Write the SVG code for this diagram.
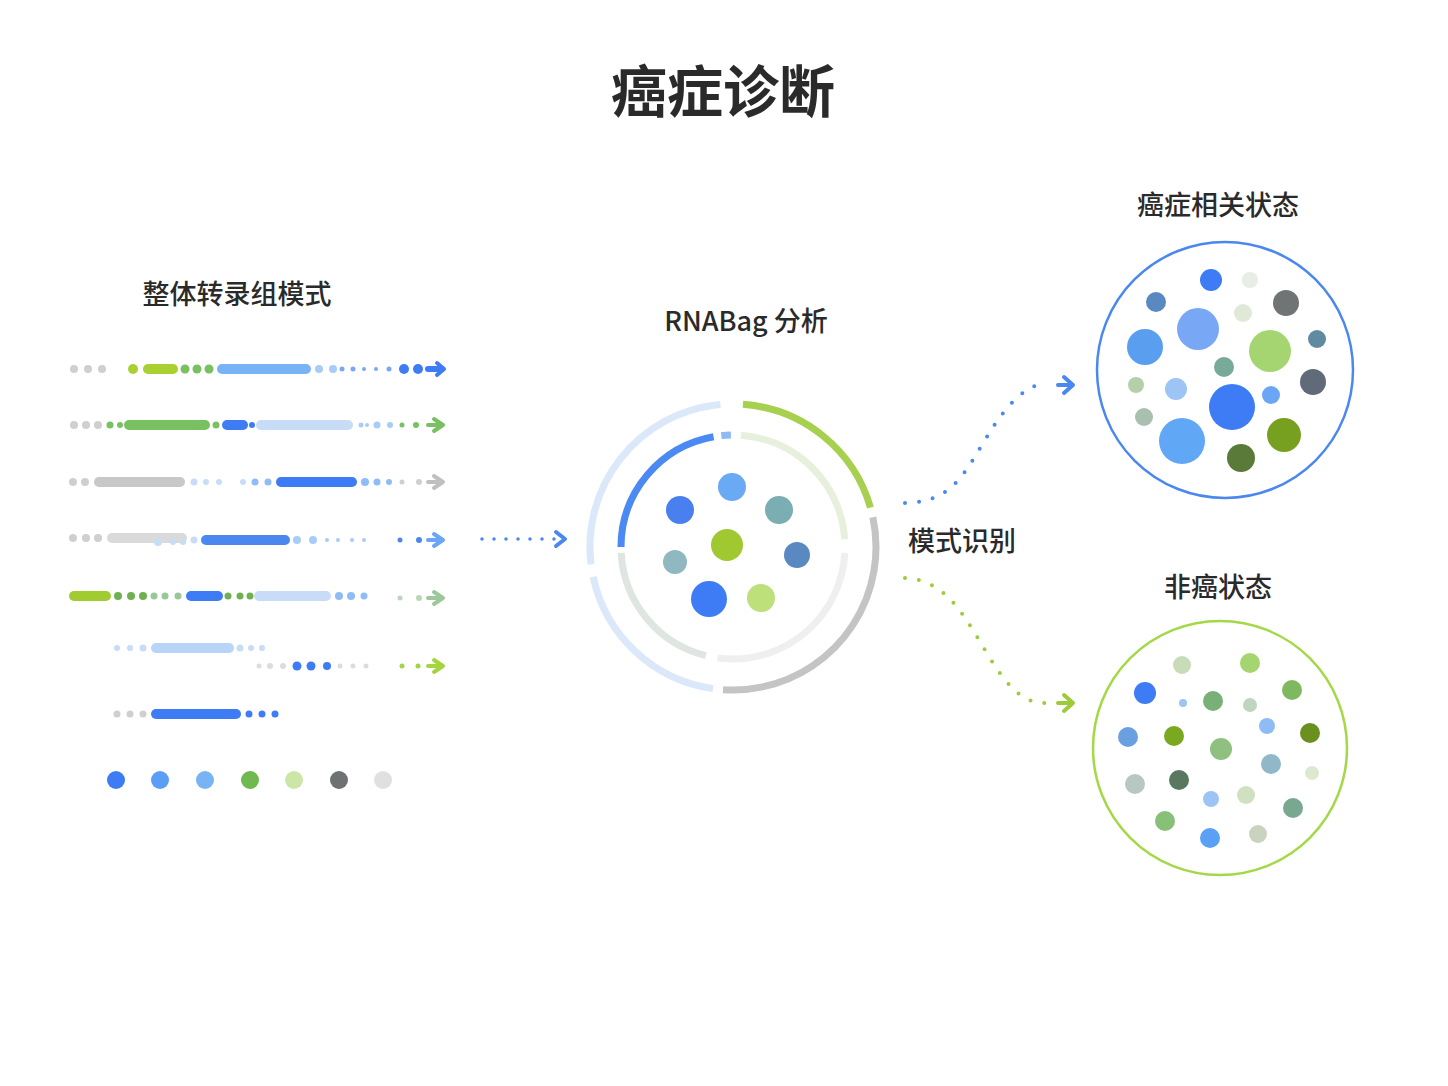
<svg xmlns="http://www.w3.org/2000/svg" width="1448" height="1086" viewBox="0 0 1448 1086">
<style>
text{font-family:"Noto Sans CJK SC","Noto Sans",sans-serif;fill:#2a2a2a;text-anchor:middle}
.t{font-size:27px;font-weight:500}
.ring{fill:none;stroke-width:7}
.bar{stroke-linecap:round;stroke-width:10;fill:none}
.ah{fill:none;stroke-width:4;stroke-linecap:round;stroke-linejoin:round}
</style>
<rect width="1448" height="1086" fill="#fff"/>
<text x="723" y="112" font-size="56" font-weight="700">癌症诊断</text>
<g id="transcriptome">
<text class="t" x="237" y="304">整体转录组模式</text>
<g id="row1">
<g fill="#cfcfcf"><circle cx="74" cy="369" r="4"/><circle cx="88" cy="369" r="4"/><circle cx="102" cy="369" r="4"/></g>
<circle cx="133" cy="369" r="5" fill="#a8d030"/><line class="bar" x1="148" y1="369" x2="173" y2="369" stroke="#a8d030"/>
<g fill="#78c060"><circle cx="185" cy="369" r="4.5"/><circle cx="197" cy="369" r="4.5"/><circle cx="209" cy="369" r="4.5"/></g>
<line class="bar" x1="222" y1="369" x2="306" y2="369" stroke="#78b4f5"/>
<g fill="#a8ccf8"><circle cx="319" cy="369" r="4"/><circle cx="333" cy="369" r="4"/></g>
<g fill="#78a8f5"><circle cx="342" cy="369" r="2.5"/><circle cx="353" cy="369" r="2.5"/><circle cx="364" cy="369" r="2"/><circle cx="376" cy="369" r="2"/><circle cx="389" cy="369" r="2.5"/></g>
<g fill="#3d7cf5"><circle cx="404" cy="369" r="5"/><circle cx="418" cy="369" r="5"/></g>
<line x1="428" y1="369" x2="442" y2="369" stroke="#3d7cf5" stroke-width="6" stroke-linecap="round"/>
<path class="ah" d="M437,363 L444,369 L437,375" stroke="#3d7cf5"/>
</g>
<g id="row2">
<g fill="#cfcfcf"><circle cx="74" cy="425" r="4"/><circle cx="86" cy="425" r="4"/><circle cx="98" cy="425" r="4"/></g>
<g fill="#78c060"><circle cx="110" cy="425" r="3.5"/><circle cx="120" cy="425" r="3"/><circle cx="216" cy="425" r="3.5"/></g>
<line class="bar" x1="129" y1="425" x2="205" y2="425" stroke="#78c060"/>
<line class="bar" x1="227" y1="425" x2="243" y2="425" stroke="#3d7cf5"/>
<circle cx="252" cy="425" r="3" fill="#3d7cf5"/>
<line class="bar" x1="261" y1="425" x2="348" y2="425" stroke="#c8dcf8"/>
<g fill="#a8ccf8"><circle cx="361" cy="425" r="2.5"/><circle cx="367" cy="425" r="2"/><circle cx="377" cy="425" r="3.5"/><circle cx="390" cy="425" r="3"/></g>
<g fill="#78c060"><circle cx="402" cy="425" r="2.5"/><circle cx="416" cy="425" r="3"/></g>
<path class="ah" d="M434,419 L443,425 L434,431 M428,425 L442,425" stroke="#78c060"/>
</g>
<g id="row3">
<g fill="#cfcfcf"><circle cx="73" cy="482" r="4"/><circle cx="85" cy="482" r="4"/></g>
<line class="bar" x1="99" y1="482" x2="180" y2="482" stroke="#c8c8c8"/>
<g fill="#c8dcf8"><circle cx="194" cy="482" r="3.5"/><circle cx="206" cy="482" r="3"/><circle cx="219" cy="482" r="3"/><circle cx="243" cy="482" r="3"/></g>
<g fill="#90bcf5"><circle cx="255" cy="482" r="3.5"/><circle cx="268" cy="482" r="3.5"/><circle cx="365" cy="482" r="4"/><circle cx="377" cy="482" r="3.5"/><circle cx="389" cy="482" r="3"/></g>
<line class="bar" x1="281" y1="482" x2="352" y2="482" stroke="#3d7cf5"/>
<g fill="#cfcfcf"><circle cx="402" cy="482" r="2.5"/><circle cx="419" cy="482" r="3"/></g>
<path class="ah" d="M434,476 L443,482 L434,488 M428,482 L442,482" stroke="#c0c0c0"/>
</g>
<g id="row4">
<g fill="#cfcfcf"><circle cx="73" cy="538" r="4"/><circle cx="86" cy="538" r="4"/><circle cx="98" cy="538" r="4"/></g>
<line class="bar" x1="112" y1="538" x2="182" y2="538" stroke="#dadada"/>
<g fill="#c8dcf8"><circle cx="158" cy="542" r="4"/><circle cx="173" cy="542" r="3"/><circle cx="183" cy="542" r="3"/><circle cx="194" cy="540" r="3.5"/></g>
<line class="bar" x1="206" y1="540" x2="285" y2="540" stroke="#4a88f0"/>
<g fill="#a8ccf8"><circle cx="297" cy="540" r="4"/><circle cx="313" cy="540" r="4"/><circle cx="327" cy="540" r="2"/><circle cx="338" cy="540" r="2"/><circle cx="352" cy="540" r="2"/><circle cx="364" cy="540" r="2"/></g>
<g fill="#4a88f0"><circle cx="400" cy="540" r="2.5"/><circle cx="419" cy="540" r="3"/></g>
<path class="ah" d="M434,534 L443,540 L434,546 M428,540 L442,540" stroke="#6aa6f5"/>
</g>
<g id="row5">
<line class="bar" x1="74" y1="596" x2="106" y2="596" stroke="#a0cc30"/>
<g fill="#70b050"><circle cx="118" cy="596" r="4"/><circle cx="131" cy="596" r="4"/><circle cx="143" cy="596" r="4"/><circle cx="228" cy="596" r="3.5"/><circle cx="240" cy="596" r="3.5"/><circle cx="250" cy="596" r="3.5"/></g>
<g fill="#98c898"><circle cx="154" cy="596" r="3.5"/><circle cx="165" cy="596" r="3.5"/><circle cx="178" cy="596" r="3.5"/></g>
<line class="bar" x1="191" y1="596" x2="218" y2="596" stroke="#3d7cf5"/>
<line class="bar" x1="259" y1="596" x2="326" y2="596" stroke="#c8dcf8"/>
<g fill="#90bcf5"><circle cx="339" cy="596" r="4"/><circle cx="351" cy="596" r="4"/><circle cx="364" cy="596" r="3.5"/></g>
<g fill="#b8d8b8"><circle cx="400" cy="598" r="2.5"/><circle cx="419" cy="598" r="3"/></g>
<path class="ah" d="M434,592 L443,598 L434,604 M428,598 L442,598" stroke="#9cc89c"/>
</g>
<g id="row6">
<g fill="#c8dcf8"><circle cx="117" cy="648" r="3"/><circle cx="130" cy="648" r="3"/><circle cx="143" cy="648" r="3.5"/><circle cx="240" cy="648" r="3.5"/><circle cx="251" cy="648" r="3"/><circle cx="262" cy="648" r="3"/></g>
<line class="bar" x1="156" y1="648" x2="229" y2="648" stroke="#b8d4f8"/>
<g fill="#dcdcdc"><circle cx="259" cy="666" r="2.5"/><circle cx="270" cy="666" r="3"/><circle cx="283" cy="666" r="3"/><circle cx="340" cy="666" r="2.5"/><circle cx="353" cy="666" r="2.5"/><circle cx="366" cy="666" r="2.5"/></g>
<g fill="#3d7cf5"><circle cx="297" cy="666" r="4.5"/><circle cx="311" cy="666" r="4.5"/><circle cx="327" cy="666" r="4"/></g>
<g fill="#a4d540"><circle cx="402" cy="666" r="2.5"/><circle cx="418" cy="666" r="2.5"/></g>
<path class="ah" d="M434,660 L443,666 L434,672 M428,666 L442,666" stroke="#a4d540"/>
</g>
<g id="row7">
<g fill="#cfcfcf"><circle cx="117" cy="714" r="3.5"/><circle cx="130" cy="714" r="3.5"/><circle cx="143" cy="714" r="3.5"/></g>
<line class="bar" x1="156" y1="714" x2="236" y2="714" stroke="#3d7cf5"/>
<g fill="#3d7cf5"><circle cx="249" cy="714" r="3.5"/><circle cx="262" cy="714" r="3.5"/><circle cx="275" cy="714" r="3.5"/></g>
</g>
<g id="legend">
<circle cx="116" cy="780" r="9" fill="#3d7cf5"/><circle cx="160" cy="780" r="9" fill="#5a9ef5"/><circle cx="205" cy="780" r="9" fill="#78b4f5"/><circle cx="250" cy="780" r="9" fill="#70b850"/><circle cx="294" cy="780" r="9" fill="#cce6a8"/><circle cx="339" cy="780" r="9" fill="#6e7272"/><circle cx="383" cy="780" r="9" fill="#e0e0e0"/>
</g>
</g>
<g id="rnabag">
<text class="t" x="746" y="331">RNABag 分析</text>
<g transform="translate(733,547)">
<circle class="ring" r="143" pathLength="360" stroke="#a8d050" stroke-dasharray="70 290" transform="rotate(-86)"/>
<circle class="ring" r="143" pathLength="360" stroke="#c4c4c4" stroke-dasharray="106 254" transform="rotate(-12)"/>
<circle class="ring" r="143" pathLength="360" stroke="#dae8fa" stroke-dasharray="70 290" transform="rotate(98)"/>
<circle class="ring" r="143" pathLength="360" stroke="#dae8fa" stroke-dasharray="92 268" transform="rotate(173)"/>
<circle class="ring" r="112" pathLength="360" stroke="#4a8af2" stroke-dasharray="80 280" transform="rotate(180)"/>
<circle class="ring" r="112" pathLength="360" stroke="#8cbcf5" stroke-dasharray="5 355" transform="rotate(264)"/>
<circle class="ring" r="112" pathLength="360" stroke="#e6f0dc" stroke-dasharray="82 278" transform="rotate(274)"/>
<circle class="ring" r="112" pathLength="360" stroke="#efefef" stroke-dasharray="95 265" transform="rotate(3)"/>
<circle class="ring" r="112" pathLength="360" stroke="#dfe6e2" stroke-dasharray="73 287" transform="rotate(104)"/>
</g>
<circle cx="680" cy="510" r="14" fill="#4a7ff0"/><circle cx="732" cy="487" r="14" fill="#6aaaf5"/><circle cx="779" cy="510" r="14" fill="#7aaeb2"/><circle cx="727" cy="545" r="16" fill="#a0c830"/><circle cx="675" cy="562" r="12" fill="#8fb8c0"/><circle cx="797" cy="555" r="13" fill="#5a88c0"/><circle cx="709" cy="599" r="18" fill="#3d7cf5"/><circle cx="761" cy="598" r="14" fill="#bde07a"/>
</g>
<g id="cancer">
<text class="t" x="1218" y="215">癌症相关状态</text>
<circle cx="1225" cy="370" r="128" fill="none" stroke="#4a88f0" stroke-width="2.5"/>
<circle cx="1211" cy="280" r="11" fill="#3d7cf5"/><circle cx="1250" cy="280" r="8" fill="#e8ede5"/><circle cx="1156" cy="302" r="10" fill="#5a88c0"/><circle cx="1286" cy="303" r="13" fill="#707474"/><circle cx="1243" cy="313" r="9" fill="#e0e8d8"/><circle cx="1198" cy="329" r="21" fill="#78a8f5"/><circle cx="1145" cy="347" r="18" fill="#5a9ef0"/><circle cx="1270" cy="351" r="21" fill="#a4d570"/><circle cx="1317" cy="339" r="9" fill="#5f8aa0"/><circle cx="1224" cy="367" r="10" fill="#78aa9a"/><circle cx="1136" cy="385" r="8" fill="#b5d0a8"/><circle cx="1176" cy="389" r="11" fill="#9cc4f5"/><circle cx="1232" cy="407" r="23" fill="#3d7cf5"/><circle cx="1271" cy="395" r="9" fill="#6aa6f5"/><circle cx="1313" cy="382" r="13" fill="#606a78"/><circle cx="1144" cy="417" r="9" fill="#a8c0b0"/><circle cx="1182" cy="441" r="23" fill="#60a8f5"/><circle cx="1284" cy="435" r="17" fill="#78a020"/><circle cx="1241" cy="458" r="14" fill="#5a7a3a"/>
</g>
<g id="noncancer">
<text class="t" x="1218" y="597">非癌状态</text>
<circle cx="1220" cy="748" r="127" fill="none" stroke="#a4d848" stroke-width="2.5"/>
<circle cx="1182" cy="665" r="9" fill="#c8dcb8"/><circle cx="1250" cy="663" r="10" fill="#a4d570"/><circle cx="1145" cy="693" r="11" fill="#3d7cf5"/><circle cx="1183" cy="703" r="4" fill="#9cc4f5"/><circle cx="1213" cy="701" r="10" fill="#78b078"/><circle cx="1250" cy="705" r="7" fill="#c0d4c0"/><circle cx="1292" cy="690" r="10" fill="#80b860"/><circle cx="1267" cy="726" r="8" fill="#90bcf5"/><circle cx="1310" cy="733" r="10" fill="#6a9020"/><circle cx="1128" cy="737" r="10" fill="#6aa0e0"/><circle cx="1174" cy="736" r="10" fill="#7aa820"/><circle cx="1221" cy="749" r="11" fill="#90c080"/><circle cx="1271" cy="764" r="10" fill="#90b8c8"/><circle cx="1312" cy="773" r="7" fill="#dce8d0"/><circle cx="1135" cy="784" r="10" fill="#b8c8c0"/><circle cx="1179" cy="780" r="10" fill="#5a7860"/><circle cx="1211" cy="799" r="8" fill="#9cc4f5"/><circle cx="1246" cy="795" r="9" fill="#d0e0c0"/><circle cx="1293" cy="808" r="10" fill="#78a890"/><circle cx="1165" cy="821" r="10" fill="#88c078"/><circle cx="1210" cy="838" r="10" fill="#5aa0f5"/><circle cx="1258" cy="834" r="9" fill="#c8d4c0"/>
</g>
<g id="connectors">
<line x1="482" y1="539" x2="556" y2="539" stroke="#4a88f0" stroke-width="3.5" stroke-linecap="round" stroke-dasharray="0 12"/>
<path class="ah" d="M556,532 L565,539 L556,546" stroke="#4a88f0"/>
<path d="M905,503 C950,502 962,478 985,440 C1010,398 1030,384 1045,384" fill="none" stroke="#4a88f0" stroke-width="4" stroke-linecap="round" stroke-dasharray="0 14"/>
<path class="ah" d="M1064,377 L1073,385 L1064,393 M1058,385 L1072,385" stroke="#4a88f0"/>
<path d="M905,578 C945,580 962,612 985,650 C1010,692 1025,703 1045,703" fill="none" stroke="#9ccc3c" stroke-width="4" stroke-linecap="round" stroke-dasharray="0 14"/>
<path class="ah" d="M1064,695 L1073,703 L1064,711 M1058,703 L1072,703" stroke="#9ccc3c"/>
<text class="t" x="962" y="551">模式识别</text>
</g>
</svg>
